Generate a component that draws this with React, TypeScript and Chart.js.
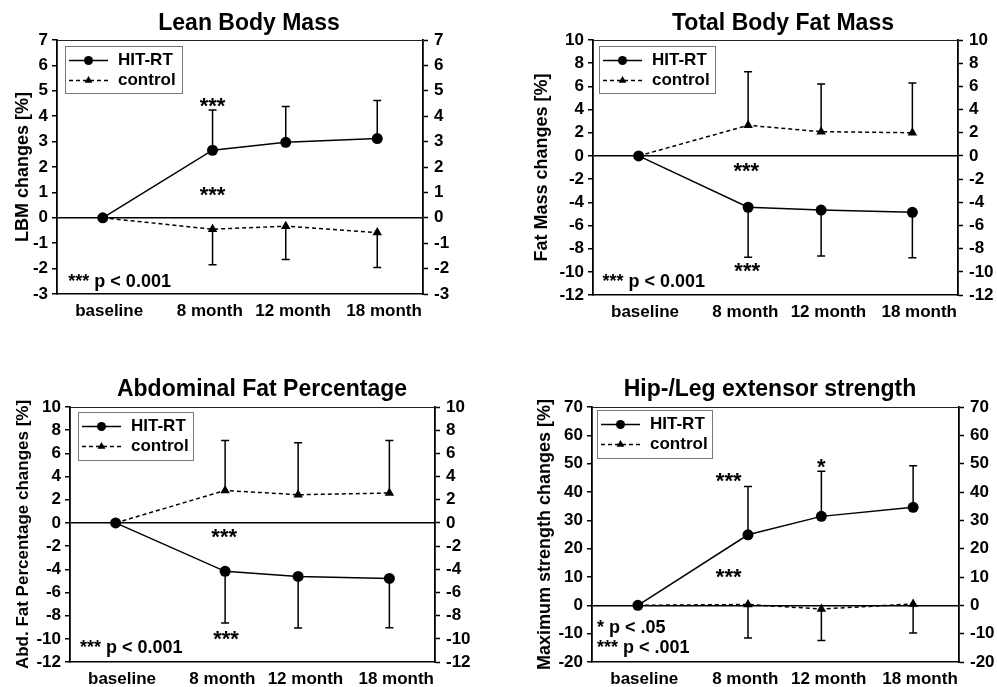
import React, { useEffect, useRef } from 'react';
import { Chart, registerables } from 'chart.js';

Chart.register(...registerables);

const FONT = "'Liberation Sans', Arial, Helvetica, sans-serif";
Chart.defaults.font.family = FONT;
Chart.defaults.color = '#000';

// ---------- shared categories ----------
const categories = ['baseline', '8 month', '12 month', '18 month'];
const xPos = [0.5, 1.7, 2.5, 3.5];
const xLabelPos = [0.57, 1.67, 2.58, 3.575];
const seriesNames = ['HIT-RT', 'control'];

// ---------- Lean Body Mass ----------
const lbmHit = [0, 2.66, 2.97, 3.12];
const lbmHitSd = [0, 1.58, 1.41, 1.5];
const lbmCtrl = [0, -0.45, -0.33, -0.58];
const lbmCtrlSd = [0, 1.4, 1.31, 1.38];
const lbmAxis = [-3, 7, 1];
const lbmStars = [
  { x: 1.7, y: 4.12, t: '***' },
  { x: 1.7, y: 0.62, t: '***' },
];
const lbmNotes = [{ x: 0.124, y: -2.71, t: '*** p < 0.001' }];

// ---------- Total Body Fat Mass ----------
const fatHit = [0, -4.43, -4.67, -4.87];
const fatHitSd = [0, 4.32, 3.97, 3.91];
const fatCtrl = [0, 2.64, 2.09, 2.0];
const fatCtrlSd = [0, 4.63, 4.11, 4.29];
const fatAxis = [-12, 10, 2];
const fatStars = [
  { x: 1.68, y: -1.92, t: '***' },
  { x: 1.69, y: -10.54, t: '***' },
];
const fatNotes = [{ x: 0.104, y: -11.29, t: '*** p < 0.001' }];

// ---------- Abdominal Fat Percentage ----------
const abdHit = [0, -4.18, -4.62, -4.79];
const abdHitSd = [0, 4.46, 4.45, 4.25];
const abdCtrl = [0, 2.8, 2.43, 2.58];
const abdCtrlSd = [0, 4.32, 4.49, 4.54];
const abdAxis = [-12, 10, 2];
const abdStars = [
  { x: 1.69, y: -1.83, t: '***' },
  { x: 1.71, y: -10.63, t: '***' },
];
const abdNotes = [{ x: 0.11, y: -11.22, t: '*** p < 0.001' }];

// ---------- Hip-/Leg extensor strength ----------
const strHit = [0, 24.9, 31.4, 34.6];
const strHitSd = [0, 17.0, 15.9, 14.7];
const strCtrl = [0, 0.3, -1.3, 0.5];
const strCtrlSd = [0, 11.8, 11.1, 10.3];
const strAxis = [-20, 70, 10];
const strStars = [
  { x: 1.49, y: 41.3, t: '***' },
  { x: 2.5, y: 46.2, t: '*' },
  { x: 1.49, y: 7.6, t: '***' },
];
const strNotes = [
  { x: 0.055, y: -9.8, t: '* p < .05' },
  { x: 0.055, y: -16.8, t: '*** p < .001' },
];

type Panel = {
  title: string;
  yTitle: string;
  hit: number[];
  hitSd: number[];
  hitDir: number;
  ctrl: number[];
  ctrlSd: number[];
  ctrlDir: number;
  axis: number[];
  stars: { x: number; y: number; t: string }[];
  notes: { x: number; y: number; t: string }[];
  canvas: { x: number; y: number; w: number; h: number };
  area: { L: number; R: number; T: number; B: number };
  titlePos: { x: number; y: number };
  yTitlePad: number;
  yTitleSize: number;
  legend: { dx: number; dy: number; w: number; h: number };
};

const panels: Panel[] = [
  {
    title: 'Lean Body Mass',
    yTitle: 'LBM changes [%]',
    hit: lbmHit, hitSd: lbmHitSd, hitDir: 1,
    ctrl: lbmCtrl, ctrlSd: lbmCtrlSd, ctrlDir: -1,
    axis: lbmAxis, stars: lbmStars, notes: lbmNotes,
    canvas: { x: 0, y: 0, w: 497, h: 343 },
    area: { L: 57, R: 423, T: 40, B: 294 },
    titlePos: { x: 249, y: 29.5 },
    yTitlePad: 12, yTitleSize: 18,
    legend: { dx: 8, dy: 6, w: 117, h: 47 },
  },
  {
    title: 'Total Body Fat Mass',
    yTitle: 'Fat Mass changes [%]',
    hit: fatHit, hitSd: fatHitSd, hitDir: -1,
    ctrl: fatCtrl, ctrlSd: fatCtrlSd, ctrlDir: 1,
    axis: fatAxis, stars: fatStars, notes: fatNotes,
    canvas: { x: 497, y: 0, w: 500, h: 343 },
    area: { L: 96, R: 461, T: 40, B: 295 },
    titlePos: { x: 286, y: 29.5 },
    yTitlePad: 34, yTitleSize: 18,
    legend: { dx: 6, dy: 6, w: 116, h: 47 },
  },
  {
    title: 'Abdominal Fat Percentage',
    yTitle: 'Abd. Fat Percentage changes [%]',
    hit: abdHit, hitSd: abdHitSd, hitDir: -1,
    ctrl: abdCtrl, ctrlSd: abdCtrlSd, ctrlDir: 1,
    axis: abdAxis, stars: abdStars, notes: abdNotes,
    canvas: { x: 0, y: 343, w: 497, h: 344 },
    area: { L: 70, R: 435, T: 64, B: 319 },
    titlePos: { x: 262, y: 52.5 },
    yTitlePad: 13, yTitleSize: 17,
    legend: { dx: 8, dy: 5, w: 115, h: 48 },
  },
  {
    title: 'Hip-/Leg extensor strength',
    yTitle: 'Maximum strength changes [%]',
    hit: strHit, hitSd: strHitSd, hitDir: 1,
    ctrl: strCtrl, ctrlSd: strCtrlSd, ctrlDir: -1,
    axis: strAxis, stars: strStars, notes: strNotes,
    canvas: { x: 497, y: 343, w: 500, h: 344 },
    area: { L: 95, R: 462, T: 64, B: 319 },
    titlePos: { x: 273, y: 52.7 },
    yTitlePad: 37.5, yTitleSize: 18,
    legend: { dx: 5, dy: 3, w: 115, h: 48 },
  },
];

function drawTriangle(ctx: CanvasRenderingContext2D, x: number, y: number, r: number) {
  ctx.beginPath();
  ctx.moveTo(x, y - r);
  ctx.lineTo(x + r * 0.866, y + r * 0.5);
  ctx.lineTo(x - r * 0.866, y + r * 0.5);
  ctx.closePath();
  ctx.fill();
}

function decorPlugin(p: Panel) {
  return {
    id: 'decor',
    beforeDatasetsDraw(chart: any) {
      const { ctx, chartArea: a, scales } = chart;
      const xs = scales.x;
      const ys = scales.y;
      ctx.save();
      // top frame line
      ctx.strokeStyle = '#222';
      ctx.lineWidth = 1;
      ctx.beginPath();
      ctx.moveTo(a.left, Math.round(a.top) + 0.5);
      ctx.lineTo(a.right, Math.round(a.top) + 0.5);
      ctx.stroke();
      // error bars
      ctx.strokeStyle = '#000';
      ctx.lineWidth = 1.5;
      const sets = [
        { v: p.hit, sd: p.hitSd, dir: p.hitDir },
        { v: p.ctrl, sd: p.ctrlSd, dir: p.ctrlDir },
      ];
      sets.forEach((s) => {
        s.v.forEach((val, i) => {
          const sd = s.sd[i];
          if (!sd) return;
          const px = xs.getPixelForValue(xPos[i]);
          const y0 = ys.getPixelForValue(val);
          const y1 = ys.getPixelForValue(val + s.dir * sd);
          ctx.beginPath();
          ctx.moveTo(px, y0);
          ctx.lineTo(px, y1);
          ctx.moveTo(px - 4, y1);
          ctx.lineTo(px + 4, y1);
          ctx.stroke();
        });
      });
      ctx.restore();
    },
    afterDraw(chart: any) {
      const { ctx, chartArea: a, scales } = chart;
      const xs = scales.x;
      const ys = scales.y;
      ctx.save();
      ctx.fillStyle = '#000';
      // title
      ctx.font = `bold 23px ${FONT}`;
      ctx.textAlign = 'center';
      ctx.textBaseline = 'alphabetic';
      ctx.fillText(p.title, p.titlePos.x, p.titlePos.y);
      // significance stars
      ctx.font = `bold 22px ${FONT}`;
      p.stars.forEach((s) => {
        ctx.fillText(s.t, xs.getPixelForValue(s.x), ys.getPixelForValue(s.y));
      });
      // notes
      ctx.font = `bold 18px ${FONT}`;
      ctx.textAlign = 'left';
      p.notes.forEach((n) => {
        ctx.fillText(n.t, xs.getPixelForValue(n.x), ys.getPixelForValue(n.y));
      });
      // legend
      const bx = a.left + p.legend.dx;
      const by = a.top + p.legend.dy;
      ctx.strokeStyle = '#777';
      ctx.lineWidth = 1;
      ctx.strokeRect(Math.round(bx) + 0.5, Math.round(by) + 0.5, p.legend.w, p.legend.h);
      const rows = [by + 14.5, by + 34.5];
      const x0 = bx + 4;
      const x1 = bx + 43;
      const xm = (x0 + x1) / 2;
      ctx.strokeStyle = '#000';
      ctx.lineWidth = 1.5;
      ctx.beginPath();
      ctx.moveTo(x0, rows[0]);
      ctx.lineTo(x1, rows[0]);
      ctx.stroke();
      ctx.beginPath();
      ctx.arc(xm, rows[0], 4.5, 0, Math.PI * 2);
      ctx.fill();
      ctx.setLineDash([4, 3]);
      ctx.beginPath();
      ctx.moveTo(x0, rows[1]);
      ctx.lineTo(x1, rows[1]);
      ctx.stroke();
      ctx.setLineDash([]);
      drawTriangle(ctx, xm, rows[1], 4.5);
      ctx.font = `bold 17px ${FONT}`;
      ctx.textBaseline = 'middle';
      ctx.textAlign = 'left';
      ctx.fillText(seriesNames[0], bx + 53, rows[0]);
      ctx.fillText(seriesNames[1], bx + 53, rows[1]);
      ctx.restore();
    },
  };
}

function makeConfig(p: Panel): any {
  const [ymin, ymax, step] = p.axis;
  const W = p.canvas.w;
  const H = p.canvas.h;
  const tickFont = { size: 17, weight: 'bold' as const };
  return {
    type: 'line',
    data: {
      datasets: [
        {
          label: seriesNames[0],
          data: p.hit.map((v, i) => ({ x: xPos[i], y: v })),
          borderColor: '#000',
          backgroundColor: '#000',
          borderWidth: 1.5,
          pointStyle: 'circle',
          pointRadius: 5.5,
          pointBackgroundColor: '#000',
          pointBorderColor: '#000',
          pointBorderWidth: 0,
          tension: 0,
          yAxisID: 'y',
        },
        {
          label: seriesNames[1],
          data: p.ctrl.map((v, i) => ({ x: xPos[i], y: v })),
          borderColor: '#000',
          backgroundColor: '#000',
          borderWidth: 1.5,
          borderDash: [4, 3],
          pointStyle: 'triangle',
          pointRadius: 5.5,
          pointBackgroundColor: '#000',
          pointBorderColor: '#000',
          pointBorderWidth: 0,
          tension: 0,
          yAxisID: 'y',
        },
      ],
    },
    options: {
      responsive: false,
      animation: false,
      devicePixelRatio: 1,
      layout: { padding: { left: 0, right: 0, top: p.area.T, bottom: 0 } },
      plugins: {
        legend: { display: false },
        title: { display: false },
        tooltip: { enabled: false },
      },
      scales: {
        x: {
          type: 'linear',
          position: 'bottom',
          min: 0,
          max: 4,
          afterBuildTicks: (s: any) => {
            s.ticks = xLabelPos.map((v) => ({ value: v }));
          },
          afterFit: (s: any) => {
            s.height = H - p.area.B;
            s.paddingLeft = 0;
            s.paddingRight = 0;
          },
          ticks: {
            autoSkip: false,
            maxRotation: 0,
            minRotation: 0,
            padding: 7,
            color: '#000',
            font: tickFont,
            callback: (_v: any, i: number) => categories[i],
          },
          grid: { display: false, drawTicks: false },
          border: { display: true, color: '#000', width: 1.5 },
        },
        y: {
          type: 'linear',
          position: 'left',
          min: ymin,
          max: ymax,
          afterFit: (s: any) => {
            s.width = p.area.L;
            s.paddingTop = 0;
            s.paddingBottom = 0;
          },
          ticks: { stepSize: step, autoSkip: false, padding: 4, color: '#000', font: tickFont },
          grid: {
            display: true,
            drawOnChartArea: true,
            drawTicks: true,
            tickLength: 5,
            tickColor: '#000',
            tickWidth: 1.5,
            lineWidth: 1.5,
            color: (c: any) => (c.tick && c.tick.value === 0 ? '#000' : 'rgba(0,0,0,0)'),
          },
          border: { display: true, color: '#000', width: 1.8 },
          title: {
            display: true,
            text: p.yTitle,
            color: '#000',
            font: { size: p.yTitleSize, weight: 'bold' },
            padding: { top: p.yTitlePad, bottom: 0 },
          },
        },
        y2: {
          type: 'linear',
          position: 'right',
          min: ymin,
          max: ymax,
          afterFit: (s: any) => {
            s.width = W - p.area.R;
            s.paddingTop = 0;
            s.paddingBottom = 0;
          },
          ticks: { stepSize: step, autoSkip: false, padding: 6, color: '#000', font: tickFont },
          grid: {
            display: true,
            drawOnChartArea: false,
            drawTicks: true,
            tickLength: 5,
            tickColor: '#000',
            tickWidth: 1.5,
            color: '#000',
          },
          border: { display: true, color: '#000', width: 1.8 },
        },
      },
    },
    plugins: [decorPlugin(p)],
  };
}

function PanelChart({ p }: { p: Panel }) {
  const ref = useRef<HTMLCanvasElement | null>(null);
  useEffect(() => {
    if (!ref.current) return;
    const chart = new Chart(ref.current, makeConfig(p));
    return () => chart.destroy();
  }, [p]);
  return (
    <canvas
      ref={ref}
      width={p.canvas.w}
      height={p.canvas.h}
      style={{
        position: 'absolute',
        left: p.canvas.x,
        top: p.canvas.y,
        width: p.canvas.w,
        height: p.canvas.h,
      }}
    />
  );
}

export default function App() {
  return (
    <div
      style={{
        position: 'absolute',
        left: 0,
        top: 0,
        width: 997,
        height: 687,
        background: '#fff',
        overflow: 'hidden',
      }}
    >
      {panels.map((p) => (
        <PanelChart key={p.title} p={p} />
      ))}
    </div>
  );
}
